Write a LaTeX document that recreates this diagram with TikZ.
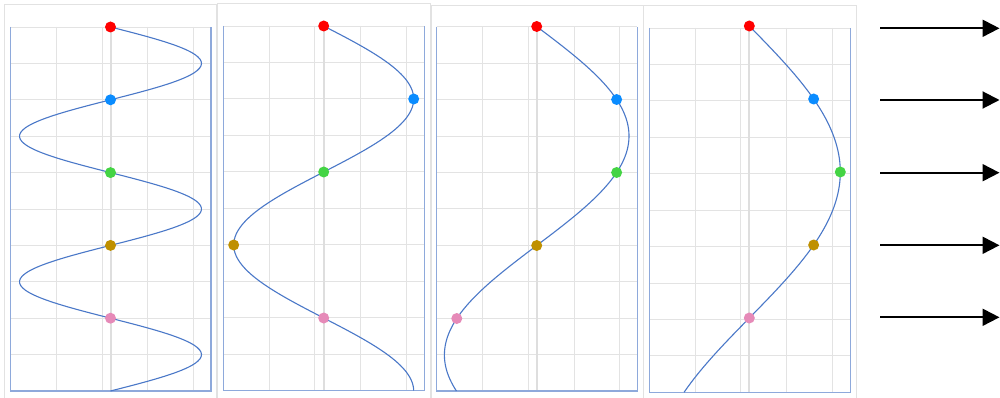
\documentclass[tikz,border=0pt]{standalone}
\usetikzlibrary{arrows.meta}
\definecolor{curveblue}{HTML}{4A78C8}
\definecolor{boxblue}{HTML}{8EA9DB}
\definecolor{gridgray}{HTML}{E3E3E3}
\definecolor{axisgray}{HTML}{DEDEDE}
\definecolor{framegray}{HTML}{E2E2E2}
\definecolor{dotred}{HTML}{FF0000}
\definecolor{dotblue}{HTML}{0A8CFF}
\definecolor{dotgreen}{HTML}{44D444}
\definecolor{dotgold}{HTML}{BF9000}
\definecolor{dotpink}{HTML}{E68AB8}
\tikzset{
  frame/.style={draw=framegray, line width=1pt},
  gridline/.style={draw=gridgray, line width=0.9pt},
  axisline/.style={draw=axisgray, line width=2pt},
  plotbox/.style={draw=boxblue, line width=1.1pt},
  wave/.style={draw=curveblue, line width=1.1pt},
  dot/.style={circle, inner sep=0pt, minimum size=11pt, draw=none},
  arrowline/.style={draw=black, line width=2pt, -{Triangle[length=17pt,width=17pt]}}
}
\begin{document}
\begin{tikzpicture}[x=1pt,y=-1pt]
\useasboundingbox (0,0) rectangle (1000,398);
\fill[white] (0,0) rectangle (1000,398);
% panels: frameL/frameR/frameT/L/R/T/B/cx/amplitude/wavelength/y0/dot spacing
\foreach \fL/\fR/\fT/\L/\R/\T/\B/\cx/\A/\lam/\yz/\ds [count=\i] in {
  4/216.7/5/10.5/211/27/391/110.5/91/145.6/27/72.8,
  217.3/430.5/4/223.3/424.3/26/390.5/323.7/90/292/26/73,
  431/643/5.3/436.7/637.3/26.7/391/536.7/92.3/438/26.5/73,
  643.5/856/6/649.3/850.7/28/392.3/749.3/91/584/26/73}{
  % outer frame (open at the bottom)
  \draw[frame] (\fL,400) -- (\fL,\fT) -- (\fR,\fT) -- (\fR,400);
  % horizontal grid lines
  \foreach \k in {0,...,9}
    \draw[gridline] (\L,{\T+\k*(\B-\T)/10}) -- (\R,{\T+\k*(\B-\T)/10});
  % vertical grid lines
  \foreach \k in {1,...,4}
    \draw[gridline] ({\L+\k*45.8},\T) -- ({\L+\k*45.8},\B);
  % central axis
  \draw[axisline] (\cx,\T) -- (\cx,\B);
  % plot box: left, bottom, right in blue
  \draw[plotbox] (\L,\T) -- (\L,\B) -- (\R,\B) -- (\R,\T);
  % the wave
  \draw[wave] plot[domain=\yz:\B, samples=160, smooth, variable=\t]
    ({\cx+\A*sin((\t-\yz)/\lam*360)},\t);
  % the dots
  \foreach \k/\c in {0/dotred,1/dotblue,2/dotgreen,3/dotgold,4/dotpink}
    \node[dot, fill=\c] (p\i-\k) at ({\cx+\A*sin((\ds*\k)/\lam*360)},{\yz+\ds*\k}) {};
}
% arrows
\foreach \y [count=\j] in {28.3,100,172.7,245.3,317.3}{
  \coordinate (as\j) at (880,\y);
  \coordinate (ae\j) at (999.5,\y);
  \draw[arrowline] (as\j) -- (ae\j);
}
\end{tikzpicture}
\end{document}
